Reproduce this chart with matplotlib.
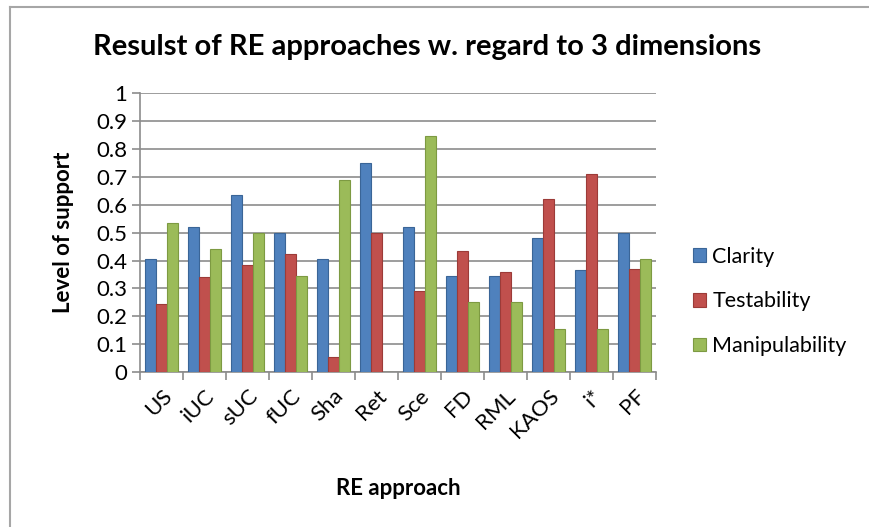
import matplotlib
matplotlib.use('Agg')
import matplotlib.pyplot as plt
import numpy as np

plt.rcParams['font.family'] = ['Lato', 'DejaVu Sans']

approaches = ['US', 'iUC', 'sUC', 'fUC', 'Sha', 'Ret', 'Sce', 'FD', 'RML', 'KAOS', 'i*', 'PF']
clarity = [0.405, 0.52, 0.635, 0.5, 0.405, 0.75, 0.52, 0.345, 0.345, 0.48, 0.365, 0.5]
testability = [0.245, 0.34, 0.385, 0.425, 0.055, 0.5, 0.29, 0.435, 0.36, 0.62, 0.71, 0.37]
manipulability = [0.535, 0.44, 0.5, 0.345, 0.69, 0.0, 0.845, 0.25, 0.25, 0.155, 0.155, 0.405]

series = [
    ('Clarity', clarity, '#4F81BD', '#3A6597'),
    ('Testability', testability, '#C0504D', '#9C3B38'),
    ('Manipulability', manipulability, '#9BBB59', '#7D9A42'),
]

fig = plt.figure(figsize=(8.7, 5.27), dpi=100)
ax = fig.add_axes([0.161, 0.294, 0.593, 0.529])

x = np.arange(len(approaches))
w = 0.25
for i, (name, vals, fc, ec) in enumerate(series):
    ax.bar(x + (i - 1) * w, vals, width=w, color=fc, edgecolor=ec, linewidth=0.8,
           label=name, zorder=3)

ax.set_xlim(-0.5, len(approaches) - 0.5)
ax.set_ylim(0, 1)
ax.set_yticks(np.arange(0, 1.01, 0.1))
ax.set_yticklabels(['0', '0.1', '0.2', '0.3', '0.4', '0.5', '0.6', '0.7', '0.8', '0.9', '1'])
ax.yaxis.grid(True, color='#8c8c8c', linewidth=1.2, zorder=0)
ax.set_axisbelow(True)

ax.set_xticks(np.arange(-0.5, len(approaches), 1.0))
ax.set_xticklabels([])
ax.set_xticks(x, minor=True)
ax.set_xticklabels(approaches, minor=True, rotation=45, ha='right', rotation_mode='anchor',
                   fontsize=16)
ax.tick_params(axis='x', which='minor', length=0, pad=10)
ax.tick_params(axis='x', which='major', length=6, color='#8c8c8c', width=1.2)
ax.tick_params(axis='y', length=6, color='#8c8c8c', width=1.2, labelsize=16, pad=3)

for s in ['top', 'right']:
    ax.spines[s].set_visible(False)
for s in ['left', 'bottom']:
    ax.spines[s].set_color('#8c8c8c')
    ax.spines[s].set_linewidth(1.2)

ax.set_ylabel('Level of support', fontsize=16, fontweight='bold', labelpad=16)
ax.set_xlabel('RE approach', fontsize=16, fontweight='bold', labelpad=26)
fig.suptitle('Resulst of RE approaches w. regard to 3 dimensions', fontsize=21,
             fontweight='bold', x=0.491, y=0.935)

fig.legend(loc='center left', bbox_to_anchor=(0.774, 0.428), frameon=False, fontsize=15.5,
           handlelength=0.6, handleheight=0.6, handletextpad=0.3, labelspacing=1.15)

# chart area border (left and top edges visible)
fig.add_artist(plt.Line2D([0.012, 0.012], [0, 0.987], color='#a6a6a6', linewidth=1.5))
fig.add_artist(plt.Line2D([0.012, 1], [0.987, 0.987], color='#a6a6a6', linewidth=1.5))

fig.savefig('out.png', dpi=100)
